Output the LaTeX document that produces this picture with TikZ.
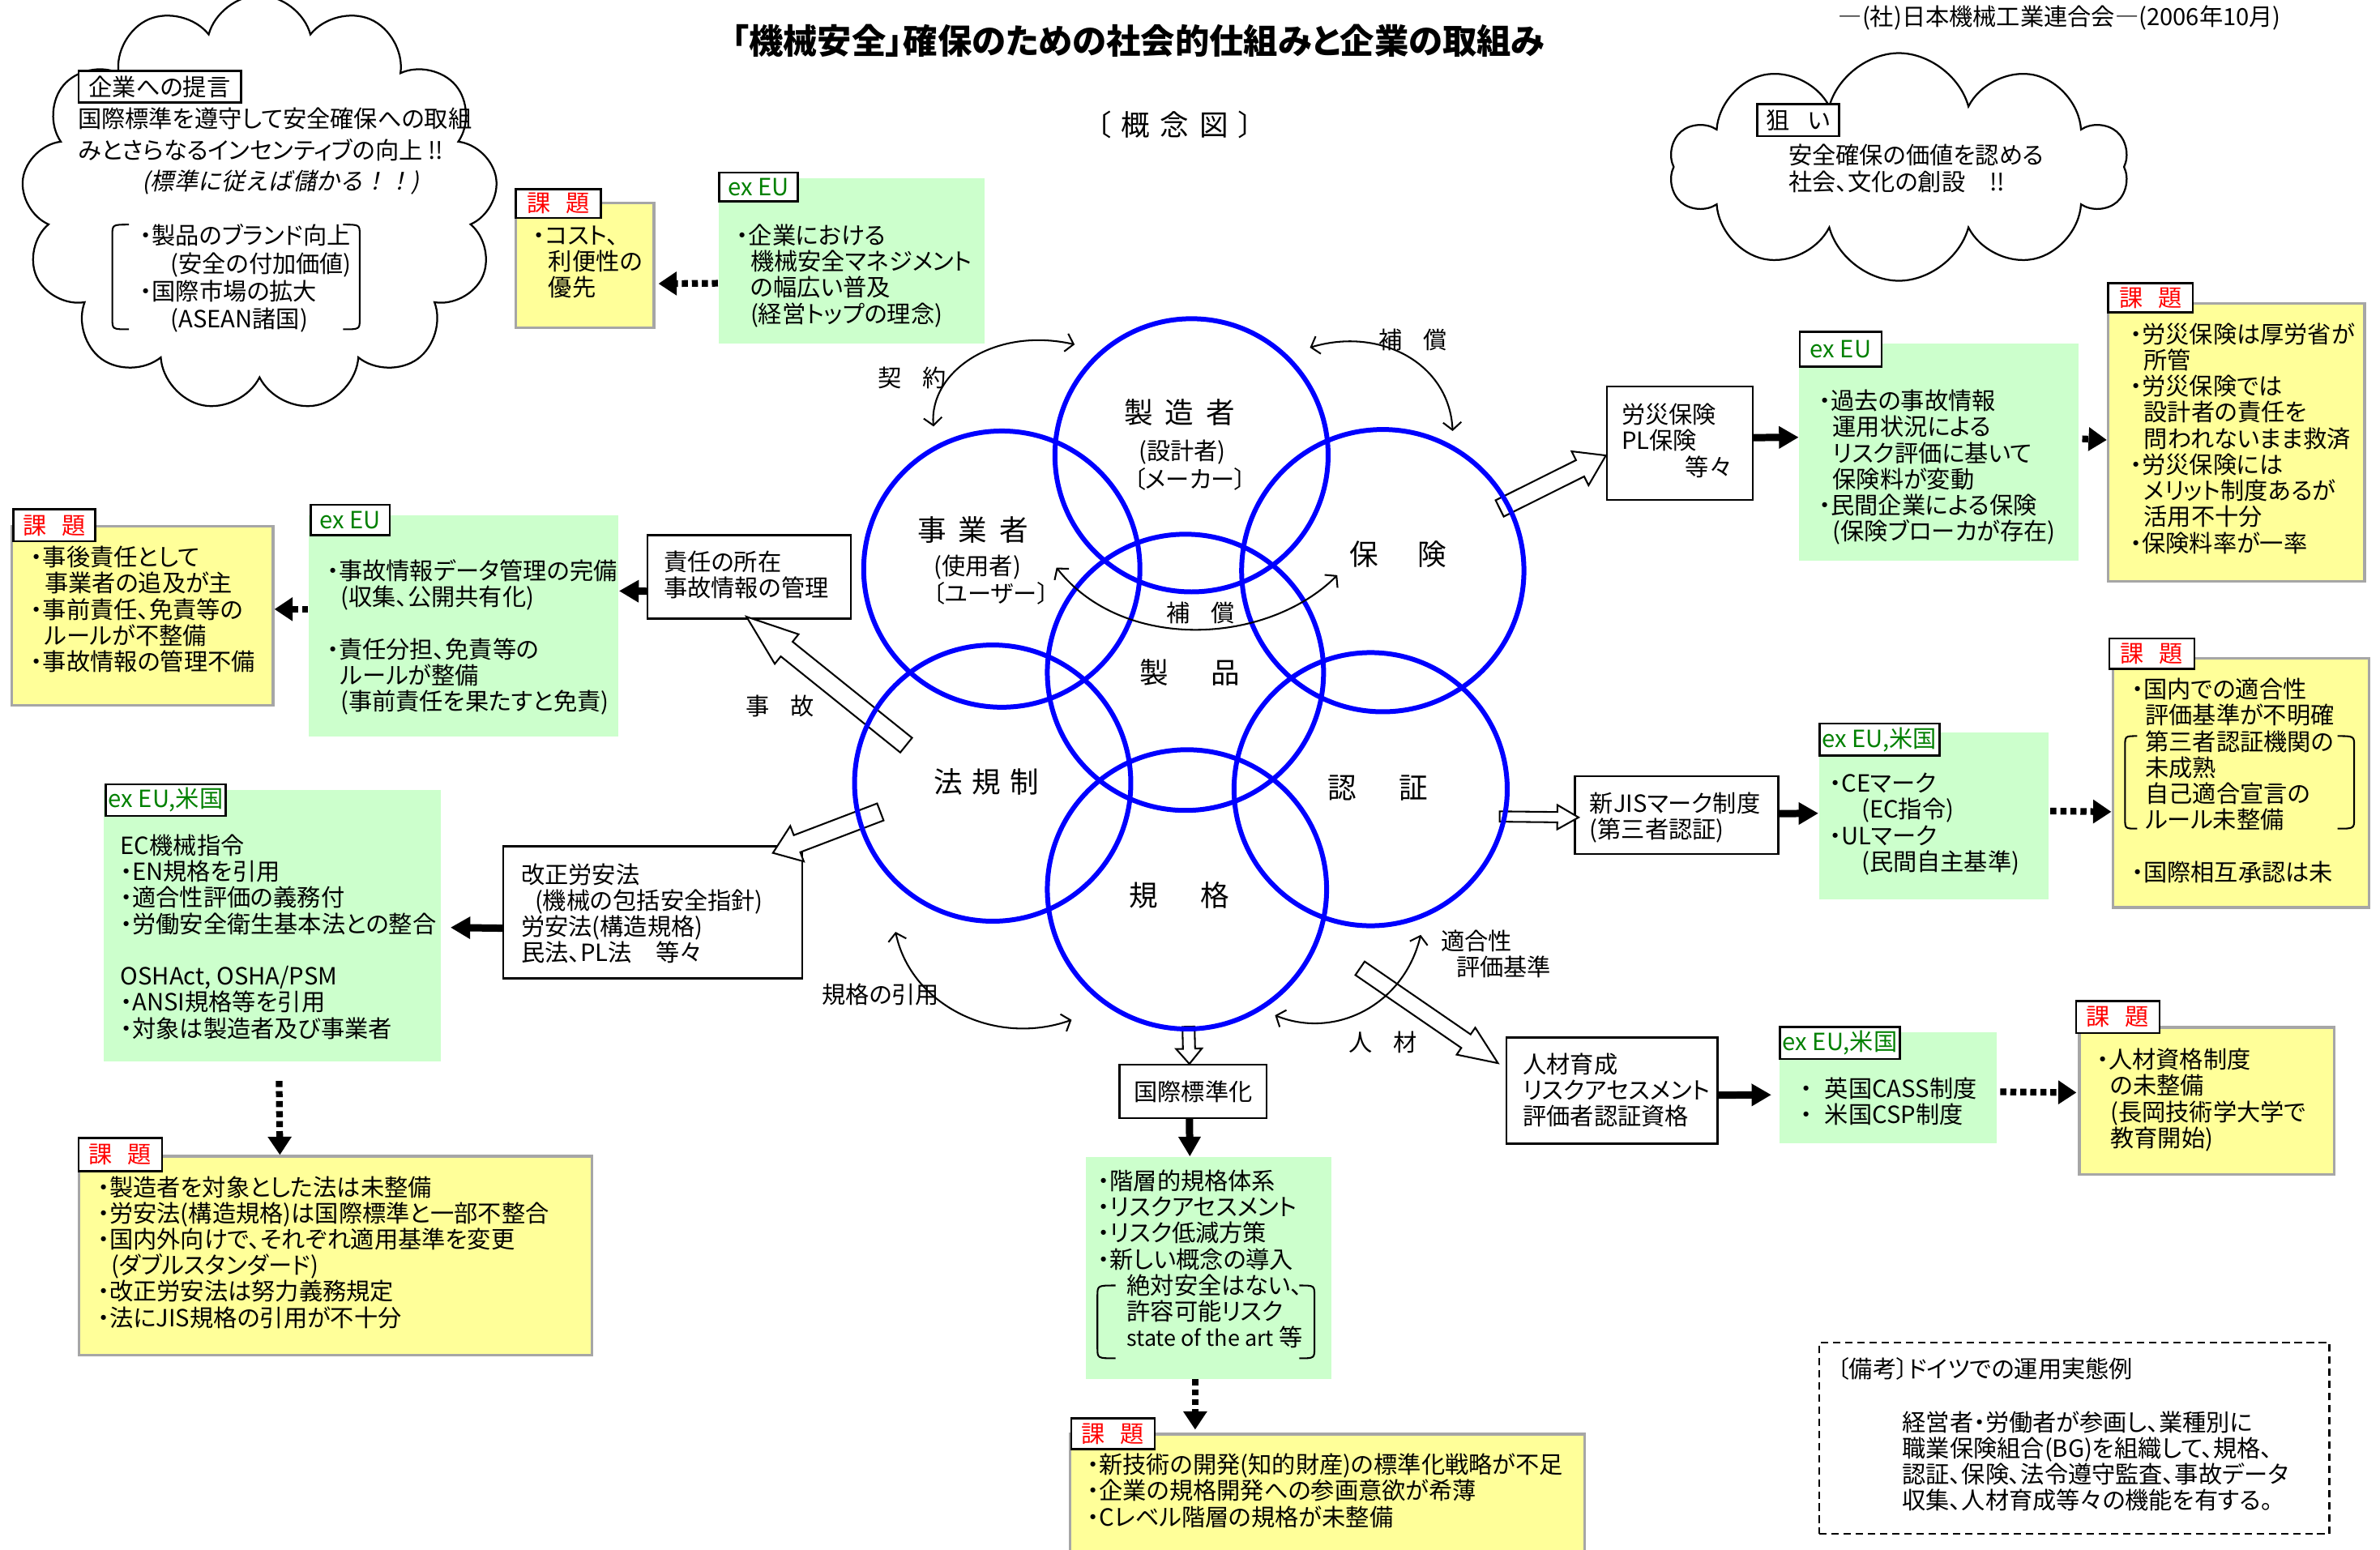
\documentclass[tikz,border=0pt]{standalone}
\usepackage{fontspec}
\setmainfont[RawFeature=+palt]{Noto Sans CJK JP}
\newfontfamily\jpit[FakeSlant=0.2]{Noto Sans CJK JP}
\usetikzlibrary{arrows.meta,shapes.symbols,calc}
\definecolor{grn}{HTML}{CCFFCC}
\definecolor{ylw}{HTML}{FFFF99}
\definecolor{exg}{HTML}{008000}
\definecolor{ybd}{HTML}{A6A6A6}
\newcommand\bodyfont{\fontsize{7.8}{8.6}\selectfont}
\newcommand\cfont{\fontsize{9.5}{10}\selectfont}
\newcommand\ind{\kern4.5pt}
\newcommand\ml[2][8.6pt]{\vtop{\let\\\cr\baselineskip=#1\lineskiplimit=-20pt\lineskip=0pt\halign{##\hfil\cr#2\crcr}}}
\newcommand\blockarrow[5]{%
  \draw[hollow] let \p1=(#1), \p2=(#2), \n1={atan2(\y2-\y1,\x2-\x1)}, \n2={veclen(\x2-\x1,\y2-\y1)} in
    [shift={(\p1)}, rotate=\n1]
    (0pt,-#3) -- ({\n2*1pt-#5},-#3) -- ({\n2*1pt-#5},-#4) -- ({\n2*1pt},0pt) -- ({\n2*1pt-#5},#4) -- ({\n2*1pt-#5},#3) -- (0pt,#3) -- cycle;}
\newcommand\lbrk[4]{\draw[brk] (#2,#3) .. controls (#1,#3) .. (#1,#3+7) -- (#1,#4-7) .. controls (#1,#4) .. (#2,#4);}
\newcommand\rbrk[4]{\draw[brk] (#1,#3) .. controls (#2,#3) .. (#2,#3+7) -- (#2,#4-7) .. controls (#2,#4) .. (#1,#4);}
\begin{document}
\begin{tikzpicture}[x=0.5pt,y=-0.5pt,font=\bodyfont,
  circ/.style={circle, draw=blue, line width=1.6pt, inner sep=0pt},
  wbox/.style={draw, line width=0.6pt, fill=white, anchor=north west, inner sep=0pt},
  gbox/.style={fill=grn, anchor=north west, inner sep=0pt},
  ybox/.style={fill=ylw, draw=ybd, line width=0.9pt, anchor=north west, inner sep=0pt},
  tagbox/.style={draw, line width=0.7pt, fill=white, anchor=north west, inner sep=0pt},
  redtag/.style={tagbox, text=red},
  greentag/.style={tagbox, text=exg},
  txt/.style={inner sep=0pt, anchor=base west},
  ctxt/.style={inner sep=0pt, anchor=center},
  solidarr/.style={line width=2.4pt, -{Triangle[length=6.5pt,width=7pt]}},
  dotarr/.style={line width=2.2pt, dash pattern=on 2pt off 1.3pt, -{Triangle[length=6pt,width=7.5pt]}},
  curv/.style={line width=0.55pt, {Straight Barb[length=2.5pt,width=6pt]}-{Straight Barb[length=2.5pt,width=6pt]}},
  hollow/.style={draw, line width=0.55pt, fill=white},
  cloudsh/.style={cloud, draw, line width=0.6pt, cloud ignores aspect, inner sep=0pt},
  brk/.style={line width=0.55pt},
]
\useasboundingbox (0,0) rectangle (1568,1021);

% ---------- clouds ----------
\node[cloudsh, cloud puffs=13, minimum width=157pt, minimum height=137pt] (cloudL) at (171,134) {};
\node[cloudsh, cloud puffs=10, minimum width=151pt, minimum height=75pt] (cloudR) at (1251,110) {};

% ---------- title ----------
\node[ctxt, font=\fontsize{11.3}{12}\selectfont\bfseries] (title) at (750,27) {「機械安全」確保のための社会的仕組みと企業の取組み};
\node[ctxt] (hdr) at (1357,12) {―(社)日本機械工業連合会―(2006年10月)};
\node[ctxt, font=\fontsize{9.5}{10}\selectfont] (gainen) at (774,82) {〔\hspace{3.4pt}概\hspace{3.4pt}念\hspace{3.4pt}図\hspace{3.4pt}〕};

% ---------- left cloud content ----------
\node[tagbox, minimum width=53.5pt, minimum height=10.5pt] (teigen) at (51,46) {企業への提言};
\node[txt] (cl1) at (51,84) {\ml[10.5pt]{国際標準を遵守して安全確保への取組\\みとさらなるインセンティブの向上 !!}};
\node[ctxt, font=\bodyfont\jpit] (cl2) at (185,120) {(標準に従えば儲かる！！)};
\node[txt] (cl3) at (92,161) {\ml[9.2pt]{・製品のブランド向上\\\kern10pt(安全の付加価値)\\・国際市場の拡大\\\kern10pt(ASEAN諸国)}};
\lbrk{74}{85}{148}{217}
\rbrk{226}{237}{148}{217}

% ---------- right cloud content ----------
\node[tagbox, minimum width=27pt, minimum height=10.5pt] (nerai) at (1157,68) {狙\hspace{6pt}い};
\node[txt] (cr1) at (1178,108) {\ml[9pt]{安全確保の価値を認める\\社会、文化の創設\hspace{8pt}!!}};

% ---------- top-left boxes ----------
\node[ybox, minimum width=45.5pt, minimum height=41pt] (y1) at (339,133) {};
\node[redtag, minimum width=28pt, minimum height=9.5pt] (t1) at (339,124) {課\hspace{5pt}題};
\node[txt] (y1t) at (351,161) {\ml{・コスト、\\\kern5pt 利便性の\\\kern5pt 優先}};
\node[gbox, minimum width=87.5pt, minimum height=54.5pt] (g1) at (473,117) {};
\node[greentag, minimum width=26pt, minimum height=9.5pt] (t2) at (473,113) {ex EU};
\node[txt] (g1t) at (485,161) {\ml{・企業における\\\ind 機械安全マネジメント\\\ind の幅広い普及\\\ind(経営トップの理念)}};

% ---------- left middle ----------
\node[ybox, minimum width=86pt, minimum height=59pt] (y2) at (7,346) {};
\node[redtag, minimum width=27pt, minimum height=10.5pt] (t3) at (8,335) {課\hspace{5pt}題};
\node[txt] (y2t) at (20,373) {\ml{・事後責任として\\\ind 事業者の追及が主\\・事前責任、免責等の\\\ind ルールが不整備\\・事故情報の管理不備}};
\node[gbox, minimum width=102pt, minimum height=73pt] (g2) at (203,339) {};
\node[greentag, minimum width=26pt, minimum height=10pt] (t4) at (204,332) {ex EU};
\node[txt] (g2t) at (215,382) {\ml{・事故情報データ管理の完備\\\ind(収集、公開共有化)\\\\・責任分担、免責等の\\\ind ルールが整備\\\ind(事前責任を果たすと免責)}};
\node[wbox, minimum width=67pt, minimum height=27.5pt] (sekinin) at (426,352) {};
\node[txt] (sekt) at (437,376) {\ml{責任の所在\\事故情報の管理}};

% ---------- lower left ----------
\node[gbox, minimum width=111pt, minimum height=89.5pt] (g3) at (68,520) {};
\node[greentag, minimum width=39.5pt, minimum height=10.5pt] (t5) at (69,516) {ex EU,米国};
\node[txt] (g3t) at (79,563) {\ml{EC機械指令\\・EN規格を引用\\・適合性評価の義務付\\・労働安全衛生基本法との整合\\\\OSHAct, OSHA/PSM\\・ANSI規格等を引用\\・対象は製造者及び事業者}};
\node[wbox, minimum width=98.5pt, minimum height=43.5pt] (roan) at (331,557) {};
\node[txt] (roant) at (343,582) {\ml{改正労安法\\\kern4.5pt(機械の包括安全指針)\\労安法(構造規格)\\民法、PL法\hspace{8pt}等々}};
\node[ybox, minimum width=169pt, minimum height=65.5pt] (y3) at (51,761) {};
\node[redtag, minimum width=27.5pt, minimum height=11pt] (t6) at (51,749) {課\hspace{5pt}題};
\node[txt] (y3t) at (64,788) {\ml{・製造者を対象とした法は未整備\\・労安法(構造規格)は国際標準と一部不整合\\・国内外向けで、それぞれ適用基準を変更\\\ind(ダブルスタンダード)\\・改正労安法は努力義務規定\\・法にJIS規格の引用が不十分}};

% ---------- bottom center ----------
\node[wbox, minimum width=48.5pt, minimum height=17.5pt] (kokusai) at (737,701) {国際標準化};
\node[gbox, minimum width=81pt, minimum height=73pt] (g4) at (715,762) {};
\node[txt] (g4t) at (723,784) {\ml{・階層的規格体系\\・リスクアセスメント\\・リスク低減方策\\・新しい概念の導入\\\kern9.5pt 絶対安全はない、\\\kern9.5pt 許容可能リスク\\\kern9.5pt {\fontsize{7.2}{8}\selectfont state of the art} 等}};
\lbrk{723}{735}{847}{895}
\rbrk{856}{866}{847}{895}
\node[ybox, minimum width=169.5pt, minimum height=45pt] (y4) at (704,944) {};
\node[redtag, minimum width=27.5pt, minimum height=10pt] (t7) at (705,934) {課\hspace{5pt}題};
\node[txt] (y4t) at (716,971) {\ml{・新技術の開発(知的財産)の標準化戦略が不足\\・企業の規格開発への参画意欲が希薄\\・Cレベル階層の規格が未整備}};

% ---------- right top ----------
\node[wbox, minimum width=48pt, minimum height=37.5pt] (rosai) at (1058,254) {};
\node[txt] (rosait) at (1068,279) {\ml{労災保険\\PL保険\\\kern21pt 等々}};
\node[gbox, minimum width=92pt, minimum height=71.5pt] (g5) at (1185,226) {};
\node[greentag, minimum width=27pt, minimum height=11.5pt] (t8) at (1185,218) {ex EU};
\node[txt] (g5t) at (1198,270) {\ml{・過去の事故情報\\\ind 運用状況による\\\ind リスク評価に基いて\\\ind 保険料が変動\\・民間企業による保険\\\ind(保険ブローカが存在)}};
\node[ybox, minimum width=84.5pt, minimum height=91.5pt] (y5) at (1388,199) {};
\node[redtag, minimum width=28pt, minimum height=9.5pt] (t9) at (1388,186) {課\hspace{5pt}題};
\node[txt] (y5t) at (1403,226) {\ml{・労災保険は厚労省が\\\ind 所管\\・労災保険では\\\ind 設計者の責任を\\\ind 問われないまま救済\\・労災保険には\\\ind メリット制度あるが\\\ind 活用不十分\\・保険料率が一率}};

% ---------- right middle ----------
\node[wbox, minimum width=67pt, minimum height=25.5pt] (jis) at (1037,511) {};
\node[txt] (jist) at (1047,535) {\ml{新JISマーク制度\\(第三者認証)}};
\node[gbox, minimum width=75.5pt, minimum height=55pt] (g6) at (1198,482) {};
\node[greentag, minimum width=39.5pt, minimum height=10.5pt] (t10) at (1198,476) {ex EU,米国};
\node[txt] (g6t) at (1205,522) {\ml{・CEマーク\\\kern10.5pt(EC指令)\\・ULマーク\\\kern10.5pt(民間自主基準)}};
\node[ybox, minimum width=84.5pt, minimum height=82pt] (y6) at (1391,433) {};
\node[redtag, minimum width=28pt, minimum height=10pt] (t11) at (1389,420) {課\hspace{5pt}題};
\node[txt] (y6t) at (1404,460) {\ml{・国内での適合性\\\ind 評価基準が不明確\\\ind 第三者認証機関の\\\ind 未成熟\\\ind 自己適合宣言の\\\ind ルール未整備\\\\・国際相互承認は未}};
\lbrk{1400}{1408}{485}{546}
\rbrk{1540}{1551}{485}{546}

% ---------- right lower ----------
\node[wbox, minimum width=69.5pt, minimum height=35pt] (jinzai) at (992,683) {};
\node[txt] (jinzait) at (1003,707) {\ml{人材育成\\リスクアセスメント\\評価者認証資格}};
\node[gbox, minimum width=71.5pt, minimum height=36.5pt] (g7) at (1172,680) {};
\node[greentag, minimum width=39.5pt, minimum height=10.5pt] (t12) at (1172,676) {ex EU,米国};
\node[txt] (g7t) at (1186,723) {\ml{・\kern4pt 英国CASS制度\\・\kern4pt 米国CSP制度}};
\node[ybox, minimum width=84pt, minimum height=48.5pt] (y7) at (1369,676) {};
\node[redtag, minimum width=27.5pt, minimum height=10.5pt] (t13) at (1367,659) {課\hspace{5pt}題};
\node[txt] (y7t) at (1381,704) {\ml{・人材資格制度\\\ind の未整備\\\ind(長岡技術学大学で\\\ind 教育開始)}};

% ---------- note box ----------
\node[draw, line width=0.6pt, dash pattern=on 2.5pt off 1.5pt, anchor=north west, inner sep=0pt, minimum width=168pt, minimum height=63pt] (biko) at (1198,884) {};
\node[txt] (bikot) at (1210,908) {〔備考〕ドイツでの運用実態例};
\node[txt] (bikop) at (1253,943) {\ml{経営者・労働者が参画し、業種別に\\職業保険組合(BG)を組織して、規格、\\認証、保険、法令遵守監査、事故データ\\収集、人材育成等々の機能を有する。}};

% ---------- hollow block arrows ----------
\coordinate (jikoT) at (597,491);
\coordinate (houT) at (580,535);
\coordinate (hokenT) at (988,335);
\coordinate (ninshoT) at (988,538);
\coordinate (kikakuT) at (783,676.5);
\coordinate (jinT) at (896,638);
\blockarrow{jikoT}{$(sekinin.south)+(-2,-2)$}{3.1pt}{6.25pt}{17pt}
\blockarrow{houT}{$(roan.north east)+(-20,5)$}{3pt}{6.25pt}{8.5pt}
\blockarrow{hokenT}{$(rosai.west)+(0,8)$}{3pt}{6.25pt}{9.5pt}
\blockarrow{ninshoT}{$(jis.west)+(3,1.5)$}{1.7pt}{4pt}{7pt}
\blockarrow{kikakuT}{$(kokusai.north)+(-2.5,0)$}{2pt}{4.25pt}{5pt}
\blockarrow{jinT}{$(jinzai.west)+(-5,-18)$}{2.7pt}{5.4pt}{12.8pt}

% ---------- circles ----------
\node[circ, minimum size=90pt] (seizosha) at (785,300) {};
\node[circ, minimum size=91pt] (jigyosha) at (660,375) {};
\node[circ, minimum size=93pt] (hoken) at (911,376) {};
\node[circ, minimum size=91pt] (seihin) at (781,443) {};
\node[circ, minimum size=91pt] (hokisei) at (654,516) {};
\node[circ, minimum size=90pt] (ninsho) at (903,520) {};
\node[circ, minimum size=92pt] (kikaku) at (782,586) {};

\node[ctxt, font=\cfont] (l1) at (777,272) {製\hspace{4pt}造\hspace{4pt}者};
\node[ctxt] (l1a) at (779,298) {(設計者)};
\node[ctxt] (l1b) at (784,316) {〔メーカー〕};
\node[ctxt, font=\cfont] (l2) at (641,349) {事\hspace{4pt}業\hspace{4pt}者};
\node[ctxt] (l2a) at (644,374) {(使用者)};
\node[ctxt] (l2b) at (653,391) {〔ユーザー〕};
\node[ctxt, font=\cfont] (l3) at (921,365) {保\hspace{13pt}険};
\node[ctxt, font=\cfont] (l4) at (784,443) {製\hspace{14pt}品};
\node[ctxt, font=\cfont] (l5) at (650,515) {法\hspace{3pt}規\hspace{3pt}制};
\node[ctxt, font=\cfont] (l6) at (908,519) {認\hspace{14pt}証};
\node[ctxt, font=\cfont] (l7) at (777,590) {規\hspace{14pt}格};

% ---------- curved relation arrows ----------
\coordinate (k1) at (615,281); \coordinate (k2) at (708,227);
\draw[curv] (k1) .. controls (612,245) and (655,215) .. (k2);
\coordinate (h1) at (863,229); \coordinate (h2) at (957,284);
\draw[curv] (h1) .. controls (910,215) and (955,240) .. (h2);
\coordinate (m1) at (696,374); \coordinate (m2) at (881,379);
\draw[curv] (m1) .. controls (740,430) and (835,425) .. (m2);
\coordinate (i1) at (590,614); \coordinate (i2) at (706,672);
\draw[curv] (i1) .. controls (600,662) and (655,690) .. (i2);
\coordinate (e1) at (936,616); \coordinate (e2) at (840,669);
\draw[curv] (e1) .. controls (925,662) and (880,685) .. (e2);

\node[ctxt] (keiyaku) at (601,249) {契\hspace{7pt}約};
\node[ctxt] (hosho1) at (931,224) {補\hspace{7pt}償};
\node[ctxt] (hosho2) at (791,404) {補\hspace{7pt}償};
\node[ctxt] (jiko) at (514,465) {事\hspace{7pt}故};
\node[ctxt] (jinzail) at (911,687) {人\hspace{7pt}材};
\node[txt] (inyo) at (541,661) {規格の引用};
\node[txt] (tekigo) at (949,626) {\ml{適合性\\\kern5pt 評価基準}};

% ---------- solid and dotted arrows ----------
\draw[solidarr] ($(sekinin.west)+(0,9.5)$) -- ($(g2.east)+(0,-23)$);
\draw[dotarr] ($(g2.west)+(0,-11)$) -- ($(y2.east)+(0,-4.5)$);
\draw[solidarr] ($(roan.west)+(0,10.5)$) -- ($(g3.east)+(6,1.25)$);
\draw[dotarr] ($(g3.south)+(4.5,12.5)$) -- ($(y3.north)+(-36.5,0)$);
\draw[solidarr] ($(kokusai.south)+(-2.5,0)$) -- ($(g4.north)+(-12.5,0)$);
\draw[dotarr] ($(g4.south)+(-9,0)$) -- ($(y4.north)+(-87,-2)$);
\draw[dotarr] ($(g1.west)+(0,14.75)$) -- ($(y1.east)+(2,12)$);
\draw[solidarr] ($(rosai.east)+(0,-3.75)$) -- ($(g5.west)+(0,-9.75)$);
\draw[dotarr] ($(g5.east)+(2,-8.75)$) -- ($(y5.west)+(0,-1.5)$);
\draw[solidarr] ($(jis.east)+(0,-1)$) -- ($(g6.west)+(0,-1.5)$);
\draw[dotarr] ($(g6.east)+(1,-3)$) -- ($(y6.west)+(0,19)$);
\draw[solidarr] ($(jinzai.east)+(0,3)$) -- ($(g7.west)+(-5,4.5)$);
\draw[dotarr] ($(g7.east)+(2,2.5)$) -- ($(y7.west)+(-1,-5.5)$);
\end{tikzpicture}
\end{document}
